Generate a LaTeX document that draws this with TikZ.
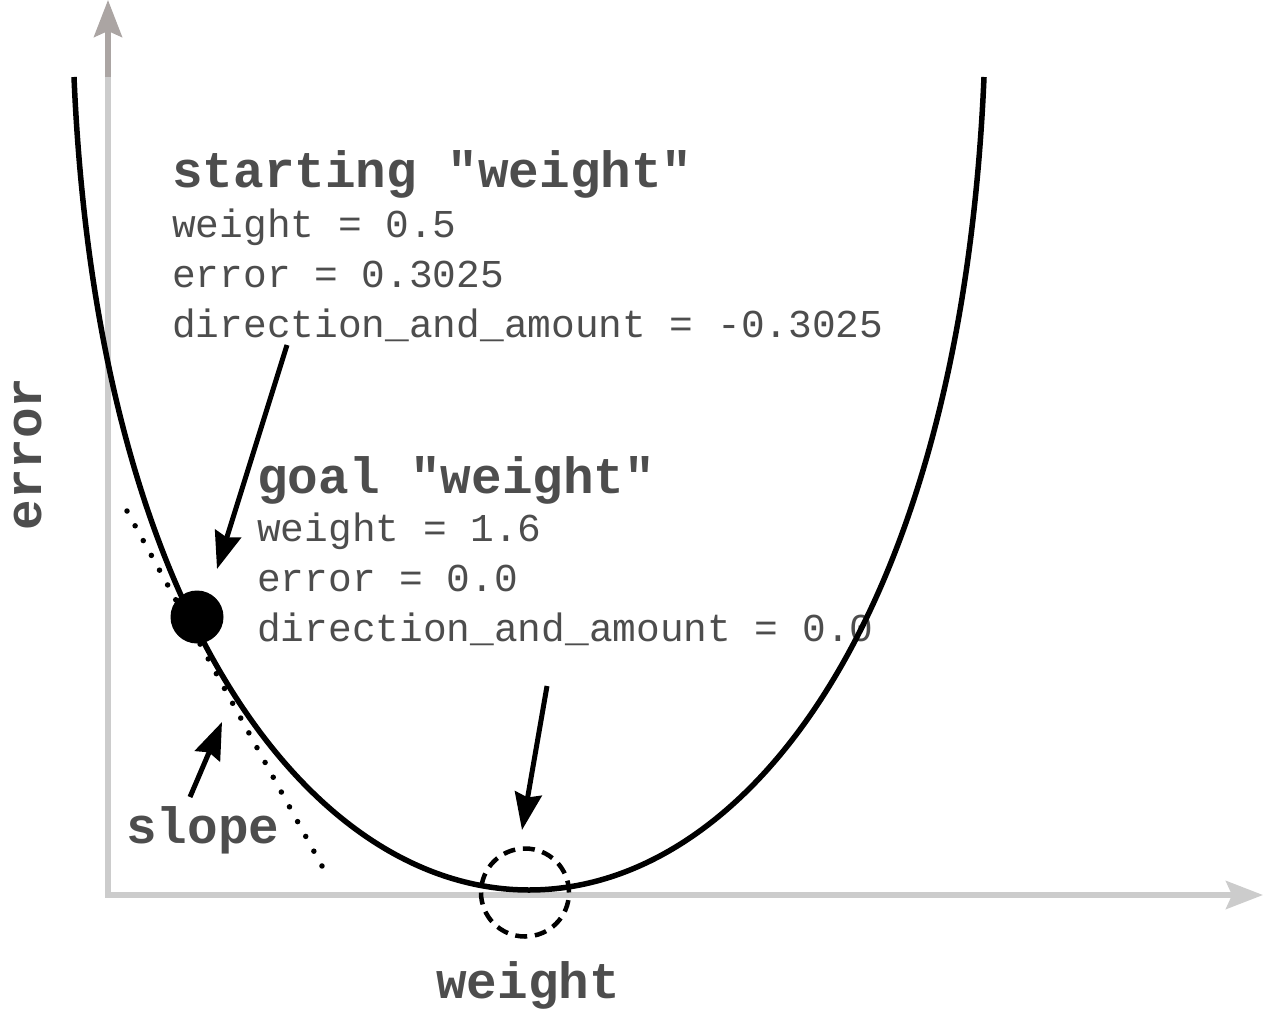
\documentclass[tikz,border=0pt]{standalone}
\usepackage{fontspec}
\setmonofont{Liberation Mono}
\usetikzlibrary{arrows.meta}
\definecolor{txt}{HTML}{4D4D4D}
\definecolor{axislight}{HTML}{CCCCCC}
\definecolor{axisdark}{HTML}{ABA5A3}
\begin{document}
\begin{tikzpicture}[x=1pt,y=-1pt,
  title/.style={font=\ttfamily\bfseries\fontsize{51}{51}\selectfont, text=txt, inner sep=0pt, anchor=base west},
  val/.style={font=\ttfamily\fontsize{39.5}{39.5}\selectfont, text=txt, inner sep=0pt, anchor=base west},
  pointer/.style={line width=5pt, -{Stealth[length=37pt,width=27pt,inset=4pt]}},
  axistip/.style={-{Stealth[length=37pt,width=28pt,inset=6pt]}}
]
\useasboundingbox (0,0) rectangle (1273,1011);

% axes
\coordinate (ybot) at (108,897.5);
\coordinate (ymid) at (108,77);
\coordinate (ytop) at (108,0);
\coordinate (xleft) at (105.5,895);
\coordinate (xright) at (1263,895);
\draw[axislight, line width=5.5pt] (ybot) -- (ymid);
\draw[axisdark, line width=5.5pt, axistip] (ymid) -- (ytop);
\draw[axislight, line width=5.5pt, axistip] (xleft) -- (xright);

% texts
\node[title] (t1) at (172,188) {starting "weight"};
\node[val] (t1a) at (172,237) {weight = 0.5};
\node[val] (t1b) at (172,287) {error = 0.3025};
\node[val] (t1c) at (172,337) {direction\_and\_amount = -0.3025};

\node[title] (t2) at (257,493) {goal "weight"};
\node[val] (t2a) at (257,541) {weight = 1.6};
\node[val] (t2b) at (257,591) {error = 0.0};
\node[val] (t2c) at (257,641) {direction\_and\_amount = 0.0};

\node[title] (slope) at (126,843) {slope};
\node[title] (xlab) at (436,998) {weight};
\node[font=\ttfamily\bfseries\fontsize{51}{51}\selectfont, text=txt, inner sep=0pt, rotate=90, anchor=base] (ylab) at (41,454) {error};

% curve
\coordinate (cl) at (74,77);
\coordinate (cr) at (984,77);
\draw[line width=5.5pt] (cl) .. controls (120,1161) and (938,1161) .. (cr);

% tangent (dotted)
\coordinate (tga) at (127,511);
\coordinate (tgb) at (322,866);
\draw[line width=5.5pt, line cap=round, dash pattern=on 0pt off 16.875pt] (tga) -- (tgb);

% current point
\node[circle, fill=black, minimum size=53pt, inner sep=0pt] (dot) at (197,617) {};

% goal circle
\node[circle, draw=black, line width=4.5pt, minimum size=88pt, inner sep=0pt, dash pattern=on 12pt off 7.75pt] (goal) at (525,892.5) {};

% pointers
\coordinate (s1) at (287,345);
\coordinate (s1tip) at (217,569);
\draw[pointer] (s1) -- (s1tip);
\coordinate (g1) at (547,686);
\coordinate (g1tip) at (522,830);
\draw[pointer] (g1) -- (g1tip);
\coordinate (sl) at (190,797);
\coordinate (sltip) at (222,722);
\draw[pointer] (sl) -- (sltip);
\end{tikzpicture}
\end{document}
